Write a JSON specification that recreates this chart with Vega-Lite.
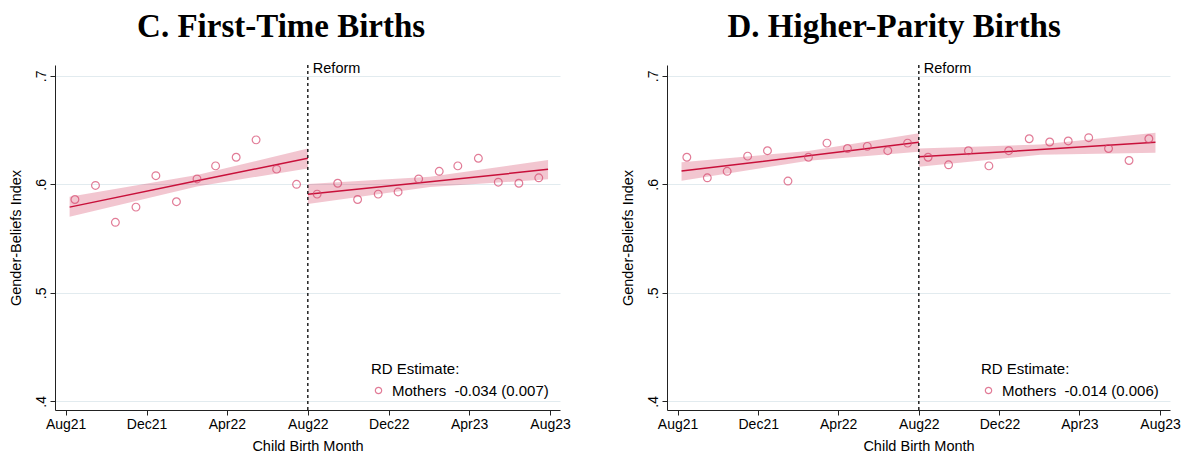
{
  "$schema": "https://vega.github.io/schema/vega-lite/v6.json",
  "background": "white",
  "padding": {"left": 8, "top": 11, "right": 2, "bottom": 2},
  "datasets": {
    "reform": [{"month": "2022-08-01", "event": "Reform"}],
    "first_points": [
      {"month": "2021-08-15", "index": 0.586, "series": "Mothers\u00a0\u00a0-0.034 (0.007)"},
      {"month": "2021-09-15", "index": 0.599, "series": "Mothers\u00a0\u00a0-0.034 (0.007)"},
      {"month": "2021-10-15", "index": 0.565, "series": "Mothers\u00a0\u00a0-0.034 (0.007)"},
      {"month": "2021-11-15", "index": 0.579, "series": "Mothers\u00a0\u00a0-0.034 (0.007)"},
      {"month": "2021-12-15", "index": 0.608, "series": "Mothers\u00a0\u00a0-0.034 (0.007)"},
      {"month": "2022-01-15", "index": 0.584, "series": "Mothers\u00a0\u00a0-0.034 (0.007)"},
      {"month": "2022-02-15", "index": 0.605, "series": "Mothers\u00a0\u00a0-0.034 (0.007)"},
      {"month": "2022-03-15", "index": 0.617, "series": "Mothers\u00a0\u00a0-0.034 (0.007)"},
      {"month": "2022-04-15", "index": 0.625, "series": "Mothers\u00a0\u00a0-0.034 (0.007)"},
      {"month": "2022-05-15", "index": 0.641, "series": "Mothers\u00a0\u00a0-0.034 (0.007)"},
      {"month": "2022-06-15", "index": 0.614, "series": "Mothers\u00a0\u00a0-0.034 (0.007)"},
      {"month": "2022-07-15", "index": 0.600, "series": "Mothers\u00a0\u00a0-0.034 (0.007)"},
      {"month": "2022-08-15", "index": 0.591, "series": "Mothers\u00a0\u00a0-0.034 (0.007)"},
      {"month": "2022-09-15", "index": 0.601, "series": "Mothers\u00a0\u00a0-0.034 (0.007)"},
      {"month": "2022-10-15", "index": 0.586, "series": "Mothers\u00a0\u00a0-0.034 (0.007)"},
      {"month": "2022-11-15", "index": 0.591, "series": "Mothers\u00a0\u00a0-0.034 (0.007)"},
      {"month": "2022-12-15", "index": 0.593, "series": "Mothers\u00a0\u00a0-0.034 (0.007)"},
      {"month": "2023-01-15", "index": 0.605, "series": "Mothers\u00a0\u00a0-0.034 (0.007)"},
      {"month": "2023-02-15", "index": 0.612, "series": "Mothers\u00a0\u00a0-0.034 (0.007)"},
      {"month": "2023-03-15", "index": 0.617, "series": "Mothers\u00a0\u00a0-0.034 (0.007)"},
      {"month": "2023-04-15", "index": 0.624, "series": "Mothers\u00a0\u00a0-0.034 (0.007)"},
      {"month": "2023-05-15", "index": 0.602, "series": "Mothers\u00a0\u00a0-0.034 (0.007)"},
      {"month": "2023-06-15", "index": 0.601, "series": "Mothers\u00a0\u00a0-0.034 (0.007)"},
      {"month": "2023-07-15", "index": 0.606, "series": "Mothers\u00a0\u00a0-0.034 (0.007)"}
    ],
    "first_fit": [
      {"month": "2021-08-07", "fit": 0.579, "lo": 0.5702, "hi": 0.5886, "side": "pre"},
      {"month": "2022-02-15", "fit": 0.6033, "lo": 0.598, "hi": 0.6085, "side": "pre"},
      {"month": "2022-08-01", "fit": 0.624, "lo": 0.6147, "hi": 0.633, "side": "pre"},
      {"month": "2022-08-01", "fit": 0.5908, "lo": 0.5819, "hi": 0.6003, "side": "post"},
      {"month": "2023-02-01", "fit": 0.6023, "lo": 0.5975, "hi": 0.607, "side": "post"},
      {"month": "2023-07-29", "fit": 0.6138, "lo": 0.6046, "hi": 0.6224, "side": "post"}
    ],
    "higher_points": [
      {"month": "2021-08-15", "index": 0.625, "series": "Mothers\u00a0\u00a0-0.014 (0.006)"},
      {"month": "2021-09-15", "index": 0.606, "series": "Mothers\u00a0\u00a0-0.014 (0.006)"},
      {"month": "2021-10-15", "index": 0.612, "series": "Mothers\u00a0\u00a0-0.014 (0.006)"},
      {"month": "2021-11-15", "index": 0.626, "series": "Mothers\u00a0\u00a0-0.014 (0.006)"},
      {"month": "2021-12-15", "index": 0.631, "series": "Mothers\u00a0\u00a0-0.014 (0.006)"},
      {"month": "2022-01-15", "index": 0.603, "series": "Mothers\u00a0\u00a0-0.014 (0.006)"},
      {"month": "2022-02-15", "index": 0.625, "series": "Mothers\u00a0\u00a0-0.014 (0.006)"},
      {"month": "2022-03-15", "index": 0.638, "series": "Mothers\u00a0\u00a0-0.014 (0.006)"},
      {"month": "2022-04-15", "index": 0.633, "series": "Mothers\u00a0\u00a0-0.014 (0.006)"},
      {"month": "2022-05-15", "index": 0.635, "series": "Mothers\u00a0\u00a0-0.014 (0.006)"},
      {"month": "2022-06-15", "index": 0.631, "series": "Mothers\u00a0\u00a0-0.014 (0.006)"},
      {"month": "2022-07-15", "index": 0.638, "series": "Mothers\u00a0\u00a0-0.014 (0.006)"},
      {"month": "2022-08-15", "index": 0.625, "series": "Mothers\u00a0\u00a0-0.014 (0.006)"},
      {"month": "2022-09-15", "index": 0.618, "series": "Mothers\u00a0\u00a0-0.014 (0.006)"},
      {"month": "2022-10-15", "index": 0.631, "series": "Mothers\u00a0\u00a0-0.014 (0.006)"},
      {"month": "2022-11-15", "index": 0.617, "series": "Mothers\u00a0\u00a0-0.014 (0.006)"},
      {"month": "2022-12-15", "index": 0.631, "series": "Mothers\u00a0\u00a0-0.014 (0.006)"},
      {"month": "2023-01-15", "index": 0.642, "series": "Mothers\u00a0\u00a0-0.014 (0.006)"},
      {"month": "2023-02-15", "index": 0.639, "series": "Mothers\u00a0\u00a0-0.014 (0.006)"},
      {"month": "2023-03-15", "index": 0.640, "series": "Mothers\u00a0\u00a0-0.014 (0.006)"},
      {"month": "2023-04-15", "index": 0.643, "series": "Mothers\u00a0\u00a0-0.014 (0.006)"},
      {"month": "2023-05-15", "index": 0.633, "series": "Mothers\u00a0\u00a0-0.014 (0.006)"},
      {"month": "2023-06-15", "index": 0.622, "series": "Mothers\u00a0\u00a0-0.014 (0.006)"},
      {"month": "2023-07-15", "index": 0.642, "series": "Mothers\u00a0\u00a0-0.014 (0.006)"}
    ],
    "higher_fit": [
      {"month": "2021-08-07", "fit": 0.6122, "lo": 0.6033, "hi": 0.6203, "side": "pre"},
      {"month": "2022-02-15", "fit": 0.6263, "lo": 0.6218, "hi": 0.6308, "side": "pre"},
      {"month": "2022-08-01", "fit": 0.6387, "lo": 0.630, "hi": 0.647, "side": "pre"},
      {"month": "2022-08-01", "fit": 0.6254, "lo": 0.6162, "hi": 0.6331, "side": "post"},
      {"month": "2023-02-01", "fit": 0.632, "lo": 0.6272, "hi": 0.6368, "side": "post"},
      {"month": "2023-07-25", "fit": 0.6387, "lo": 0.6291, "hi": 0.6475, "side": "post"}
    ]
  },
  "config": {
    "font": "Liberation Sans",
    "view": {"stroke": null},
    "title": {"font": "Liberation Serif", "fontSize": 33, "fontWeight": "bold", "color": "black", "anchor": "middle", "frame": "bounds", "offset": 17},
    "axis": {"labelFont": "Liberation Sans", "titleFont": "Liberation Sans", "labelFontSize": 14, "titleFontSize": 14.5, "titleFontWeight": "normal", "labelColor": "black", "titleColor": "black", "tickColor": "#222", "domainColor": "#222", "tickSize": 5},
    "legend": {"labelFont": "Liberation Sans", "titleFont": "Liberation Sans", "labelFontSize": 15, "titleFontSize": 15, "titleFontWeight": "normal", "labelColor": "black", "titleColor": "black"}
  },
  "spacing": 49,
  "resolve": {"scale": {"color": "independent"}, "legend": {"color": "independent"}},
  "hconcat": [
    {
      "title": {"text": "C. First-Time Births", "frame": "bounds", "dx": -8},
      "width": 505,
      "height": 345,
      "layer": [
        {
          "data": {"name": "first_fit"},
          "mark": {"type": "area", "color": "#c8103a", "opacity": 0.24},
          "encoding": {
            "x": {"field": "month", "type": "temporal", "scale": {"type": "utc", "domain": [{"year": 2021, "month": 7, "date": 16, "utc": true}, {"year": 2023, "month": 8, "date": 16, "utc": true}]},
              "axis": {"title": "Child Birth Month", "format": "%b%y", "grid": false, "labelPadding": 2, "titlePadding": 8,
                "values": [{"year": 2021, "month": 8, "date": 1, "utc": true}, {"year": 2021, "month": 12, "date": 1, "utc": true}, {"year": 2022, "month": 4, "date": 1, "utc": true}, {"year": 2022, "month": 8, "date": 1, "utc": true}, {"year": 2022, "month": 12, "date": 1, "utc": true}, {"year": 2023, "month": 4, "date": 1, "utc": true}, {"year": 2023, "month": 8, "date": 1, "utc": true}]}},
            "y": {"field": "lo", "type": "quantitative", "scale": {"domain": [0.392, 0.71], "nice": false, "zero": false},
              "axis": {"title": "Gender-Beliefs Index", "values": [0.4, 0.5, 0.6, 0.7], "labelExpr": "replace(format(datum.value, '.1f'), '0.', '.')", "labelAngle": -90, "labelAlign": "center", "labelBaseline": "bottom", "labelPadding": 2, "titlePadding": 11, "grid": true, "gridColor": "#e2ebef", "gridWidth": 1}},
            "y2": {"field": "hi"},
            "detail": {"field": "side"}
          }
        },
        {
          "data": {"name": "first_fit"},
          "mark": {"type": "line", "color": "#c8103a", "strokeWidth": 1.5},
          "encoding": {
            "x": {"field": "month", "type": "temporal"},
            "y": {"field": "fit", "type": "quantitative"},
            "detail": {"field": "side"}
          }
        },
        {
          "data": {"name": "first_points"},
          "mark": {"type": "point", "shape": "circle", "filled": false, "size": 60, "strokeWidth": 1.2},
          "encoding": {
            "x": {"field": "month", "type": "temporal"},
            "y": {"field": "index", "type": "quantitative"},
            "color": {"field": "series", "type": "nominal", "scale": {"range": ["#d6456c"]},
              "legend": {"title": "RD Estimate:", "orient": "bottom-right", "offset": 11, "symbolSize": 40, "symbolStrokeWidth": 1.2, "titlePadding": 6, "labelOffset": 6}}
          }
        },
        {
          "data": {"name": "reform"},
          "mark": {"type": "rule", "color": "black", "strokeDash": [3, 3], "strokeWidth": 1.3},
          "encoding": {"x": {"field": "month", "type": "temporal"}}
        },
        {
          "data": {"name": "reform"},
          "mark": {"type": "text", "align": "left", "baseline": "middle", "dx": 5, "fontSize": 14.5, "color": "black"},
          "encoding": {"x": {"field": "month", "type": "temporal"}, "y": {"datum": 0.706, "type": "quantitative"}, "text": {"field": "event"}}
        }
      ]
    },
    {
      "title": {"text": "D. Higher-Parity Births", "frame": "bounds", "dx": -6},
      "width": 503,
      "height": 345,
      "layer": [
        {
          "data": {"name": "higher_fit"},
          "mark": {"type": "area", "color": "#c8103a", "opacity": 0.24},
          "encoding": {
            "x": {"field": "month", "type": "temporal", "scale": {"type": "utc", "domain": [{"year": 2021, "month": 7, "date": 16, "utc": true}, {"year": 2023, "month": 8, "date": 16, "utc": true}]},
              "axis": {"title": "Child Birth Month", "format": "%b%y", "grid": false, "labelPadding": 2, "titlePadding": 8,
                "values": [{"year": 2021, "month": 8, "date": 1, "utc": true}, {"year": 2021, "month": 12, "date": 1, "utc": true}, {"year": 2022, "month": 4, "date": 1, "utc": true}, {"year": 2022, "month": 8, "date": 1, "utc": true}, {"year": 2022, "month": 12, "date": 1, "utc": true}, {"year": 2023, "month": 4, "date": 1, "utc": true}, {"year": 2023, "month": 8, "date": 1, "utc": true}]}},
            "y": {"field": "lo", "type": "quantitative", "scale": {"domain": [0.392, 0.71], "nice": false, "zero": false},
              "axis": {"title": "Gender-Beliefs Index", "values": [0.4, 0.5, 0.6, 0.7], "labelExpr": "replace(format(datum.value, '.1f'), '0.', '.')", "labelAngle": -90, "labelAlign": "center", "labelBaseline": "bottom", "labelPadding": 2, "titlePadding": 11, "grid": true, "gridColor": "#e2ebef", "gridWidth": 1}},
            "y2": {"field": "hi"},
            "detail": {"field": "side"}
          }
        },
        {
          "data": {"name": "higher_fit"},
          "mark": {"type": "line", "color": "#c8103a", "strokeWidth": 1.5},
          "encoding": {
            "x": {"field": "month", "type": "temporal"},
            "y": {"field": "fit", "type": "quantitative"},
            "detail": {"field": "side"}
          }
        },
        {
          "data": {"name": "higher_points"},
          "mark": {"type": "point", "shape": "circle", "filled": false, "size": 60, "strokeWidth": 1.2},
          "encoding": {
            "x": {"field": "month", "type": "temporal"},
            "y": {"field": "index", "type": "quantitative"},
            "color": {"field": "series", "type": "nominal", "scale": {"range": ["#d6456c"]},
              "legend": {"title": "RD Estimate:", "orient": "bottom-right", "offset": 11, "symbolSize": 40, "symbolStrokeWidth": 1.2, "titlePadding": 6, "labelOffset": 6}}
          }
        },
        {
          "data": {"name": "reform"},
          "mark": {"type": "rule", "color": "black", "strokeDash": [3, 3], "strokeWidth": 1.3},
          "encoding": {"x": {"field": "month", "type": "temporal"}}
        },
        {
          "data": {"name": "reform"},
          "mark": {"type": "text", "align": "left", "baseline": "middle", "dx": 5, "fontSize": 14.5, "color": "black"},
          "encoding": {"x": {"field": "month", "type": "temporal"}, "y": {"datum": 0.706, "type": "quantitative"}, "text": {"field": "event"}}
        }
      ]
    }
  ]
}
